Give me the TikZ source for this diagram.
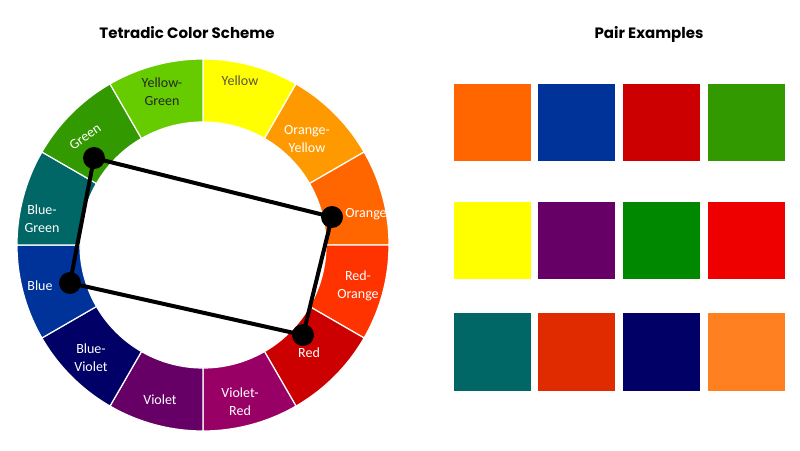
\documentclass[tikz,border=0pt]{standalone}
\usepackage{fontspec}
\setmainfont{Carlito}
\newfontfamily\titlefont{Poppins}
\usetikzlibrary{calc,positioning}
\definecolor{cYellow}{HTML}{FFFF00}
\definecolor{cOrangeYellow}{HTML}{FF9900}
\definecolor{cOrange}{HTML}{FF6600}
\definecolor{cRedOrange}{HTML}{FF3300}
\definecolor{cRed}{HTML}{CC0000}
\definecolor{cVioletRed}{HTML}{990066}
\definecolor{cViolet}{HTML}{660066}
\definecolor{cBlueViolet}{HTML}{000066}
\definecolor{cBlue}{HTML}{003399}
\definecolor{cBlueGreen}{HTML}{006666}
\definecolor{cGreen}{HTML}{339900}
\definecolor{cYellowGreen}{HTML}{66CC00}
\definecolor{cGreenB}{HTML}{008800}
\definecolor{cRedB}{HTML}{EE0000}
\definecolor{cRedOrangeB}{HTML}{E02A00}
\definecolor{cOrangeB}{HTML}{FF8020}
\tikzset{%
  % Specifications for style of nodes:
  title/.style = {font=\titlefont\bfseries\fontsize{15}{18}\selectfont},
  lab/.style = {text=white, align=center,
    font=\fontsize{14}{18}\selectfont},
  dot/.style = {circle, fill=black, minimum size=22pt, inner sep=0pt},
  link/.style = {line width=4pt, line join=round},
  swatch/.style = {rectangle, minimum size=77pt, inner sep=0pt},
}

\begin{document}
\begin{tikzpicture}[x=1pt, y=1pt, node distance=7.5pt]
  \useasboundingbox (0,0) rectangle (800,450);
  \coordinate (C) at (203,205);
  % Colour wheel
  \foreach \a/\col in {60/cYellow, 30/cOrangeYellow, 0/cOrange,
      -30/cRedOrange, -60/cRed, -90/cVioletRed, -120/cViolet,
      -150/cBlueViolet, 180/cBlue, 150/cBlueGreen, 120/cGreen,
      90/cYellowGreen}{
    \filldraw[fill=\col, draw=white, line width=1.2pt]
      ($(C)+(\a:186)$) arc[start angle=\a, delta angle=30, radius=186pt]
      -- ($(C)+(\a+30:123)$) arc[start angle=\a+30, delta angle=-30, radius=123pt]
      -- cycle;
  }
  % Specification of labels
  \node[title] (T1) at (187,417) {Tetradic Color Scheme};
  \node[title] (T2) at (649,416) {Pair Examples};
  \node[lab, text=black!85] (YG) at (162,358) {Yellow-\\Green};
  \node[lab, text=black!60!yellow!60!black] (Ye) at (240,369) {Yellow};
  \node[lab] (OY) at (307,311) {Orange-\\Yellow};
  \node[lab] (Or) at (366,236) {Orange};
  \node[lab] (RO) at (358,164) {Red-\\Orange};
  \node[lab] (Re) at (309,97) {Red};
  \node[lab] (VR) at (240,48) {Violet-\\Red};
  \node[lab] (Vi) at (160,50) {Violet};
  \node[lab] (BV) at (91,92) {Blue-\\Violet};
  \node[lab] (Bl) at (40,164) {Blue};
  \node[lab] (BG) at (42,231) {Blue-\\Green};
  \node[lab, rotate=35, inner sep=0pt] (Gr) at (85,313) {Green};
  % Tetrad
  \node[dot] (dG) at (94,292) {};
  \node[dot] (dO) at (332,233) {};
  \node[dot] (dR) at (303,115) {};
  \node[dot] (dB) at (70,167) {};
  \draw[link] (dG.center) -- (dO.center) -- (dR.center) -- (dB.center) -- cycle;
  % Pair examples
  \node[swatch, fill=cOrange] (s11) at (492,327) {};
  \node[swatch, fill=cBlue, right=of s11] (s12) {};
  \node[swatch, fill=cRed, right=of s12] (s13) {};
  \node[swatch, fill=cGreen, right=of s13] (s14) {};
  \node[swatch, fill=cYellow] (s21) at (492,209) {};
  \node[swatch, fill=cViolet, right=of s21] (s22) {};
  \node[swatch, fill=cGreenB, right=of s22] (s23) {};
  \node[swatch, fill=cRedB, right=of s23] (s24) {};
  \node[swatch, fill=cBlueGreen] (s31) at (492,98) {};
  \node[swatch, fill=cRedOrangeB, right=of s31] (s32) {};
  \node[swatch, fill=cBlueViolet, right=of s32] (s33) {};
  \node[swatch, fill=cOrangeB, right=of s33] (s34) {};
\end{tikzpicture}
\end{document}
